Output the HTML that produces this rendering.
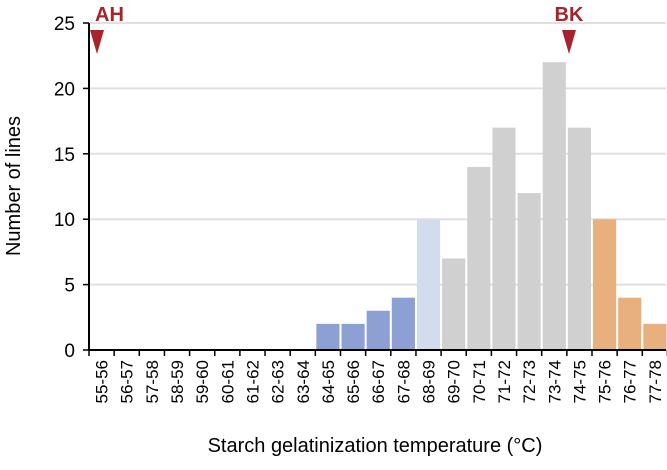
<!DOCTYPE html>
<html><head><meta charset="utf-8"><style>
body{margin:0;background:#fff;}
svg{display:block;font-family:"Liberation Sans",Arial,sans-serif;}
</style></head><body>
<svg id="chart" width="667" height="470"></svg>
<script>
const categories=["55-56","56-57","57-58","58-59","59-60","60-61","61-62","62-63","63-64","64-65","65-66","66-67","67-68","68-69","69-70","70-71","71-72","72-73","73-74","74-75","75-76","76-77","77-78"];
const counts=[0,0,0,0,0,0,0,0,0,2,2,3,4,10,7,14,17,12,22,17,10,4,2];
const barGroups=["","","","","","","","","","blue","blue","blue","blue","light","gray","gray","gray","gray","gray","gray","orange","orange","orange"];
const yTicks=[0,5,10,15,20,25];
const colors={blue:"#8ca0d4",light:"#d3dcec",gray:"#d0d0d0",orange:"#e8b07c"};
const NS="http://www.w3.org/2000/svg";
const svg=document.getElementById('chart');
const x0=89,step=25.15,yBase=350,yTop=23,yMax=25;
const X=i=>x0+i*step;
const Y=v=>yBase-(v/yMax)*(yBase-yTop);
function mk(t,a){const e=document.createElementNS(NS,t);for(const k in a)e.setAttribute(k,a[k]);svg.appendChild(e);return e;}
yTicks.forEach(t=>{
  if(t>0){const g=mk('line',{x1:x0,x2:666,y1:Y(t),y2:Y(t),stroke:'#e0e0e0','stroke-width':2});
  
  }
  const tk=mk('line',{x1:x0-6,x2:x0,y1:Y(t),y2:Y(t),stroke:'#000','stroke-width':1.5});
  
  
  const lb=mk('text',{x:x0-14,y:Y(t)+7,'text-anchor':'end','font-size':19});
  lb.textContent=t;
  
  
});
counts.forEach((c,i)=>{
  if(c>0){const r=mk('rect',{x:X(i)+1,y:Y(c),width:step-2,height:yBase-Y(c),fill:colors[barGroups[i]]});
  
  }
});
categories.forEach((c,i)=>{
  const tk=mk('line',{x1:X(i),x2:X(i),y1:yBase,y2:yBase+6,stroke:'#000','stroke-width':1.5});
  
  
  const cx=X(i)+step/2;
  const lb=mk('text',{x:cx+6,y:yBase+10,'text-anchor':'end','font-size':17,transform:`rotate(-90 ${cx+6} ${yBase+10})`});
  lb.textContent=c;
  
  
});
const tkEnd=mk('line',{x1:X(23),x2:X(23),y1:yBase,y2:yBase+6,stroke:'#000','stroke-width':1.5});


const xa=mk('line',{x1:x0,x2:666,y1:yBase,y2:yBase,stroke:'#000','stroke-width':2});


const ya=mk('line',{x1:x0,x2:x0,y1:yTop,y2:yBase,stroke:'#000','stroke-width':2});


const yt=mk('text',{x:20,y:186,'text-anchor':'middle','font-size':20,transform:'rotate(-90 20 186)'});
yt.textContent='Number of lines';


const xt=mk('text',{x:375,y:452,'text-anchor':'middle','font-size':20});
xt.textContent='Starch gelatinization temperature (°C)';


[["AH",97],["BK",569]].forEach(([n,cx])=>{
  const p=mk('polygon',{points:`${cx-7},30 ${cx+7},30 ${cx},54`,fill:'#a8232c'});
  
  
  const t=mk('text',{x:cx-2,y:21,'font-size':20,'font-weight':'bold',fill:'#a8232c'});
  if(n==="BK"){t.setAttribute('text-anchor','middle');t.setAttribute('x',cx);}
  t.textContent=n;
  
  
});
</script>
</body></html>
